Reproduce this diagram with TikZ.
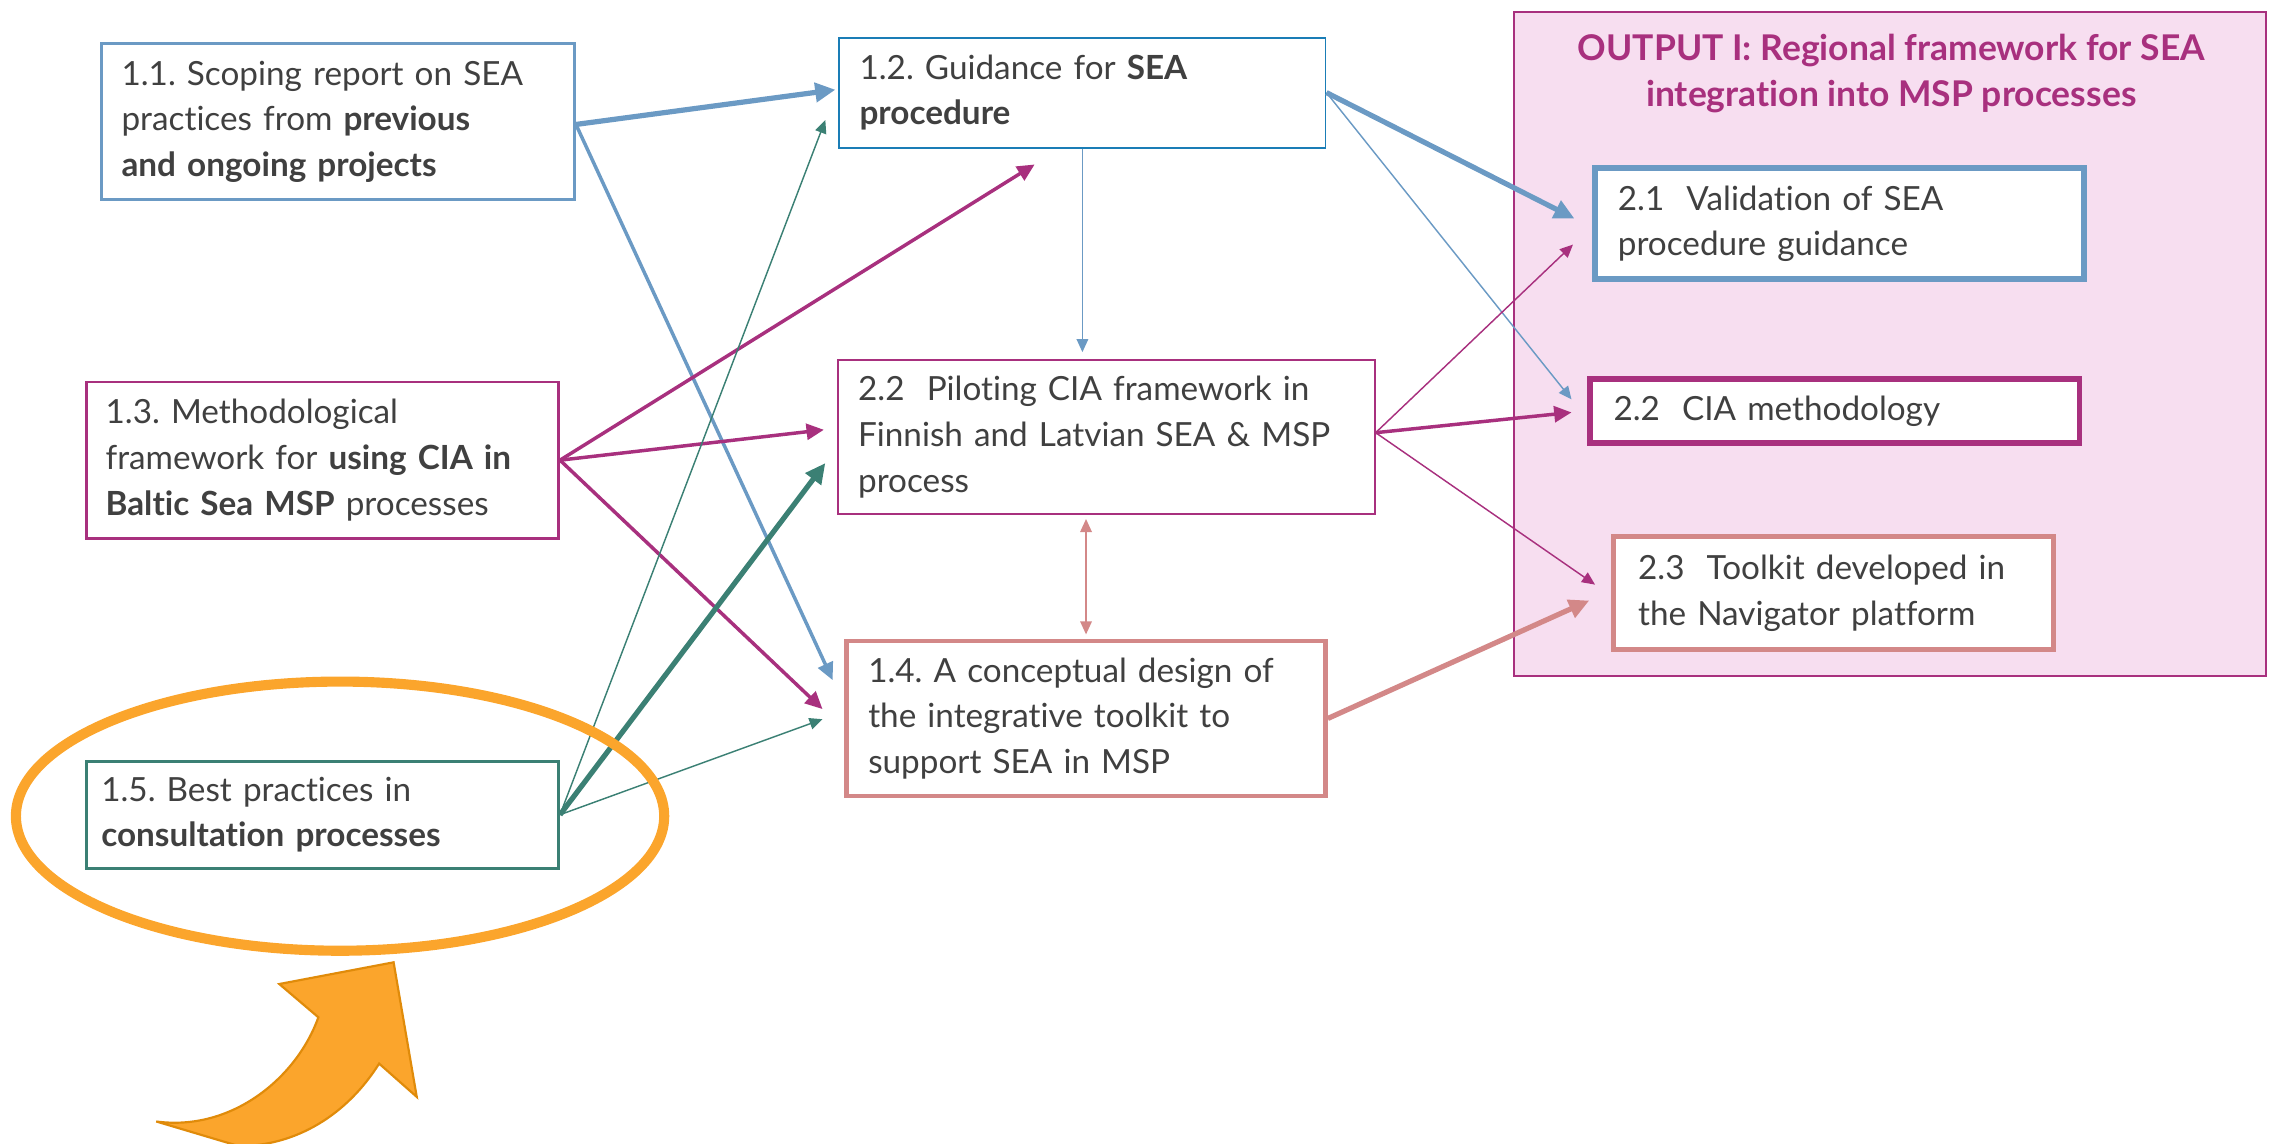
\documentclass[tikz,border=0pt]{standalone}
\usepackage{fontspec}
\setmainfont{Lato}[Ligatures=NoCommon]
\usetikzlibrary{arrows.meta,calc}
\definecolor{sblue}{HTML}{6B9AC4}
\definecolor{dblue}{HTML}{1A7DB6}
\definecolor{mag}{HTML}{A8307E}
\definecolor{teal}{HTML}{3B8074}
\definecolor{rose}{HTML}{D38888}
\definecolor{pinkfill}{HTML}{F7DEF0}
\definecolor{orfill}{HTML}{FBA52C}
\definecolor{ordraw}{HTML}{E08B0A}
\definecolor{txt}{HTML}{404040}
\frenchspacing
\begin{document}
\begin{tikzpicture}[x=1pt,y=-1pt,
  box/.style={draw, fill=white, align=left, inner xsep=14pt, inner ysep=0pt, text=txt,
    font=\fontsize{23}{31.5}\selectfont, anchor=center},
  a1/.style={line width=1pt, -{Triangle[length=9pt,width=8pt]}},
  a2/.style={line width=2.4pt, -{Triangle[length=12pt,width=11pt]}},
  a3/.style={line width=3.6pt, -{Triangle[length=14pt,width=13pt]}},
  a1d/.style={line width=1pt, {Triangle[length=9pt,width=8pt]}-{Triangle[length=9pt,width=8pt]}},
]
\useasboundingbox (0,0) rectangle (1568,790);

% output panel
\node[draw=mag, fill=pinkfill, line width=1.3pt, minimum width=520pt, minimum height=459pt, inner sep=0pt] (panel) at (1306,237.5) {};
\node[text=mag, align=center, font=\fontsize{24.5}{32}\selectfont\bfseries] (title) at (1307,51)
  {OUTPUT I: Regional framework for SEA\\integration into MSP processes};

% boxes
\node[box, draw=sblue, line width=2pt, text width=299pt, minimum height=108pt] (b11) at (233.5,84)
  {1.1. Scoping report on SEA\\practices from \textbf{previous}\\\textbf{and ongoing projects}};
\node[box, draw=dblue, line width=1.3pt, text width=308pt, minimum height=76pt] (b12) at (748,64)
  {1.2. Guidance for \textbf{SEA}\\\textbf{procedure}};
\node[box, draw=mag, line width=2pt, inner xsep=13pt, text width=300pt, minimum height=108pt] (b13) at (223,318)
  {1.3. Methodological\\framework for \textbf{using CIA in}\\\textbf{Baltic Sea MSP} processes};
\node[box, draw=mag, line width=1.3pt, text width=343pt, minimum height=106pt] (p22) at (764.5,302)
  {2.2\ \ Piloting CIA framework in\\Finnish and Latvian SEA \& MSP\\process};
\node[box, draw=rose, line width=3.2pt, inner xsep=15pt, text width=301pt, minimum height=107pt] (b14) at (750.5,496.5)
  {1.4. A conceptual design of\\the integrative toolkit to\\support SEA in MSP};
\node[box, draw=teal, line width=2pt, inner xsep=10pt, text width=306pt, minimum height=74pt] (b15) at (223,563)
  {1.5. Best practices in\\\textbf{consultation processes}};
\node[box, draw=sblue, line width=4pt, inner xsep=16pt, text width=306pt, minimum height=77pt] (o21) at (1271,154.5)
  {2.1\ \ Validation of SEA\\procedure guidance};
\node[box, draw=mag, line width=4pt, inner xsep=16pt, text width=306pt, minimum height=44pt] (o22) at (1268,284)
  {2.2\ \ CIA methodology};
\node[box, draw=rose, line width=3.5pt, inner xsep=17pt, text width=270pt, minimum height=78pt] (o23) at (1267,410)
  {2.3\ \ Toolkit developed in\\the Navigator platform};

% connectors from 1.1
\draw[a3, sblue] ($(b11.east)+(0,2)$) -- ($(b12.west)+(-2,-2)$);
\draw[a2, sblue] ($(b11.east)+(0,2)$) -- ($(b14.west)+(-8,-26.5)$);
% from 1.3
\draw[a2, mag] (b13.east) -- ($(b12.south)+(-33,11)$);
\draw[a2, mag] (b13.east) -- ($(p22.west)+(-9,-5)$);
\draw[a2, mag] (b13.east) -- ($(b14.west)+(-15,-6.5)$);
% from 1.5
\draw[a1, teal] (b15.east) -- ($(b12.west)+(-9,19)$);
\draw[a3, teal] (b15.east) -- ($(p22.west)+(-8,18)$);
\draw[a1, teal] (b15.east) -- ($(b14.west)+(-15,0.5)$);
% middle column
\draw[a1, sblue] (b12.south) -- ($(b12.south |- p22.north)+(0,-5)$);
\draw[a1d, rose] ($(b14.north |- p22.south)+(0,3)$) -- ($(b14.north)+(0,-3)$);
% to outputs
\draw[a3, sblue] (b12.east) -- ($(o21.west)+(-12,-3.5)$);
\draw[a1, sblue] (b12.east) -- ($(o22.west)+(-11,-8)$);
\draw[a1, mag] ($(p22.east)+(0,-3)$) -- ($(o21.west)+(-13,14.5)$);
\draw[a2, mag] ($(p22.east)+(0,-3)$) -- ($(o22.west)+(-11,1)$);
\draw[a1, mag] ($(p22.east)+(0,-3)$) -- ($(o23.west)+(-11,-6)$);
\draw[a3, rose] (b14.east) -- ($(o23.west)+(-15,5)$);

% highlight ellipse and block arrow
\draw[orfill, line width=7pt] (235,564) ellipse [x radius=224, y radius=93];
\draw[fill=orfill, draw=ordraw, line width=1.5pt, line join=miter]
  (108,775) .. controls (160,782) and (205,745) .. (220,703)
  -- (193,680) -- (272,665) -- (288,758) -- (262,735)
  .. controls (240,770) and (205,792) .. (165,792) -- cycle;
\end{tikzpicture}
\end{document}
